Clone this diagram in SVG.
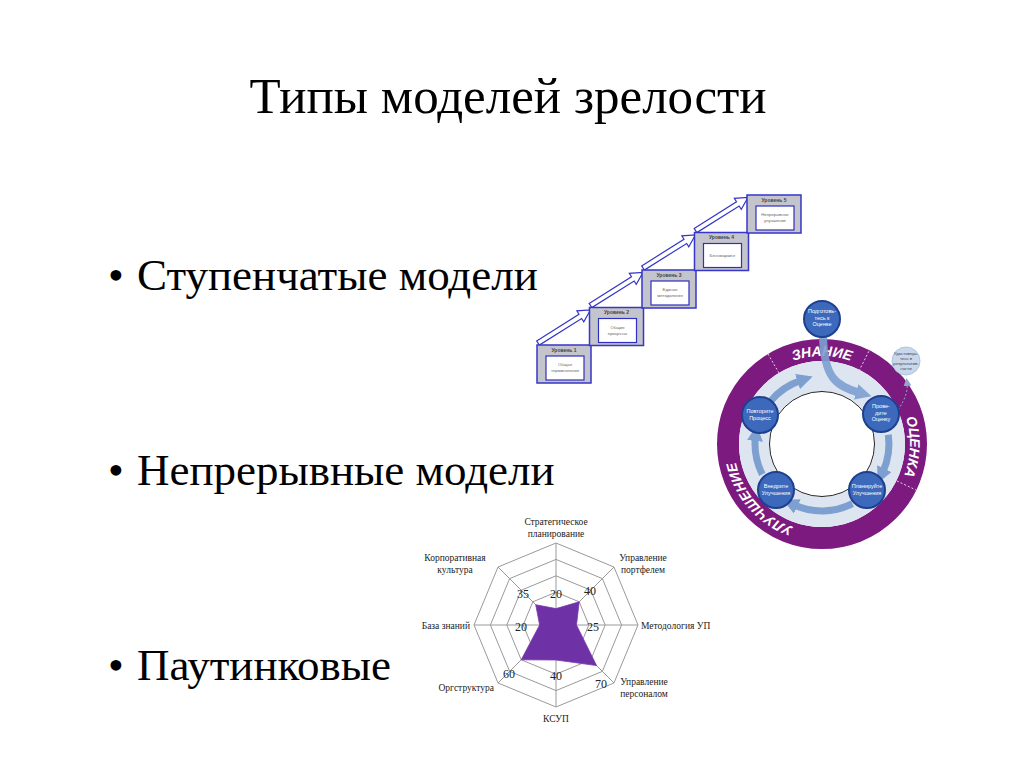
<svg xmlns="http://www.w3.org/2000/svg" width="1024" height="768" viewBox="0 0 1024 768">
<style>
.serif{font-family:"Liberation Serif","Times New Roman",serif;fill:#000}
.title{font-size:51px}
.bullet{font-size:45px}
.ax{font-size:9.5px;fill:#222}
.val{font-size:12px;fill:#222}
.grid{fill:none;stroke:#9a9a9a;stroke-width:1}
.box{fill:#c4c4cc;stroke:#3636c8;stroke-width:1.5}
.inner{fill:#fff;stroke:#3030c0;stroke-width:1.2}
.lvl{font-family:"Liberation Sans",Arial,sans-serif;font-size:5px;font-weight:bold;fill:#444;text-anchor:middle}
.itxt{font-family:"Liberation Sans",Arial,sans-serif;font-size:4.3px;fill:#666;text-anchor:middle}
.sarrow{fill:#fff;stroke:#3535c8;stroke-width:1.2}
.node{fill:#3c69bb;stroke:#1f3f8f;stroke-width:2}
.ntxt{font-family:"Liberation Sans",Arial,sans-serif;font-size:5.5px;fill:#fff;text-anchor:middle}
.vtxt{font-family:"Liberation Sans",Arial,sans-serif;font-size:4.3px;fill:#445;text-anchor:middle}
.ring{font-family:"Liberation Sans",Arial,sans-serif;font-size:14px;font-weight:bold;font-style:italic;fill:#fff;text-anchor:middle}
.flow{fill:none;stroke:#7ea0d0;stroke-width:7}
.div{stroke:#f0c8f0;stroke-width:1;stroke-dasharray:2,2}
</style>
<defs>
<marker id="ah" markerUnits="userSpaceOnUse" markerWidth="16" markerHeight="16" viewBox="0 0 16 16" refX="4" refY="8" orient="auto">
<path d="M0,0 L16,8 L0,16 Z" fill="#7ea0d0"/>
</marker>
<marker id="ahs" markerUnits="userSpaceOnUse" markerWidth="8" markerHeight="8" viewBox="0 0 8 8" refX="4" refY="4" orient="auto">
<path d="M0,0 L8,4 L0,8 Z" fill="#8fa8cc"/>
</marker>
<path id="tp" d="M734,444 A88,88 0 1,1 910,444 A88,88 0 1,1 734,444"/>
</defs>

<text class="serif title" x="508" y="113" text-anchor="middle">Типы моделей зрелости</text>
<g id="bullets" class="serif bullet">
<text x="108" y="290">•</text><text x="137" y="290">Ступенчатые модели</text>
<text x="108" y="485">•</text><text x="137" y="485">Непрерывные модели</text>
<text x="108" y="680">•</text><text x="137" y="680">Паутинковые</text>
</g>

<!-- Staircase -->
<g id="staircase">
<g id="stair-arrows">
<polygon class="sarrow" transform="translate(538,343) rotate(-32.2)" points="0,-2.5 50,-2.5 50,-6.5 62,0 50,6.5 50,2.5 0,2.5"/>
<polygon class="sarrow" transform="translate(590.5,305.5) rotate(-32.2)" points="0,-2.5 50,-2.5 50,-6.5 62,0 50,6.5 50,2.5 0,2.5"/>
<polygon class="sarrow" transform="translate(643,268) rotate(-32.2)" points="0,-2.5 50,-2.5 50,-6.5 62,0 50,6.5 50,2.5 0,2.5"/>
<polygon class="sarrow" transform="translate(695.5,230.5) rotate(-32.2)" points="0,-2.5 50,-2.5 50,-6.5 62,0 50,6.5 50,2.5 0,2.5"/>
</g>
<g id="level1"><rect class="box" x="537" y="345" width="54" height="38"/><text class="lvl" x="564" y="351.5">Уровень 1</text><rect class="inner" x="546" y="356" width="38" height="24"/><text class="itxt" x="565" y="366">Общая</text><text class="itxt" x="565" y="372">терминология</text></g>
<g id="level2"><rect class="box" x="589.5" y="307.5" width="54" height="38"/><text class="lvl" x="616.5" y="314">Уровень 2</text><rect class="inner" x="598.5" y="318.5" width="38" height="24"/><text class="itxt" x="617.5" y="328.5">Общие</text><text class="itxt" x="617.5" y="334.5">процессы</text></g>
<g id="level3"><rect class="box" x="642" y="270" width="54" height="38"/><text class="lvl" x="669" y="276.5">Уровень 3</text><rect class="inner" x="651" y="281" width="38" height="24"/><text class="itxt" x="670" y="291">Единая</text><text class="itxt" x="670" y="297">методология</text></g>
<g id="level4"><rect class="box" x="694.5" y="232.5" width="54" height="38"/><text class="lvl" x="721.5" y="239">Уровень 4</text><rect class="inner" x="703.5" y="243.5" width="38" height="24"/><text class="itxt" x="722.5" y="256.5">Бенчмаркинг</text></g>
<g id="level5"><rect class="box" x="747" y="195" width="54" height="38"/><text class="lvl" x="774" y="201.5">Уровень 5</text><rect class="inner" x="756" y="206" width="38" height="24"/><text class="itxt" x="775" y="216">Непрерывное</text><text class="itxt" x="775" y="222">улучшение</text></g>
</g>

<!-- Cycle -->
<g id="cycle">
<circle cx="822" cy="444" r="94" fill="none" stroke="#7d1a80" stroke-width="22"/>
<circle cx="822" cy="444" r="68" fill="none" stroke="#dde5f1" stroke-width="30"/>
<circle cx="822" cy="444" r="52.5" fill="#fff" stroke="#222" stroke-width="1"/>
<line class="div" x1="779" y1="373" x2="768" y2="354"/>
<line class="div" x1="859" y1="371" x2="869" y2="351"/>
<line class="div" x1="897" y1="481" x2="916" y2="490"/>
<text class="ring"><textPath href="#tp" startOffset="25%">ЗНАНИЕ</textPath></text>
<text class="ring"><textPath href="#tp" startOffset="50.5%">ОЦЕНКА</textPath></text>
<text class="ring"><textPath href="#tp" startOffset="88.5%">УЛУЧШЕНИЕ</textPath></text>
</g>
<g id="connectors">
<path class="flow" d="M770.7,400.9 A67,67 0 0,1 801.3,380.3" marker-end="url(#ah)"/>
<path class="flow" d="M888.3,434.7 A67,67 0 0,1 882.7,472.3" marker-end="url(#ah)"/>
<path class="flow" d="M852.4,503.7 A67,67 0 0,1 793.7,504.7" marker-end="url(#ah)"/>
<path class="flow" d="M762.3,474.4 A67,67 0 0,1 755.4,437" marker-end="url(#ah)"/>
<path fill="none" stroke="#7ea0d0" stroke-width="8" opacity="0.9" d="M823,336 C824,378 836,386 860,393" marker-end="url(#ah)"/>
<path fill="none" stroke="#8fa8cc" stroke-width="1" stroke-dasharray="2,2" d="M898,410 C906,398 908,390 907,382" marker-end="url(#ahs)"/>
</g>
<g id="n-prepare"><circle class="node" cx="822" cy="319" r="18"/><text class="ntxt" x="822" y="313">Подготовь-</text><text class="ntxt" x="822" y="319.5">тесь к</text><text class="ntxt" x="822" y="326">Оценке</text></g>
<g id="n-assess"><circle class="node" cx="881" cy="414" r="18"/><text class="ntxt" x="881" y="408">Прове-</text><text class="ntxt" x="881" y="414.5">дите</text><text class="ntxt" x="881" y="421">Оценку</text></g>
<g id="n-plan"><circle class="node" cx="867" cy="490" r="18"/><text class="ntxt" x="867" y="488">Планируйте</text><text class="ntxt" x="867" y="495">Улучшения</text></g>
<g id="n-implement"><circle class="node" cx="776" cy="490" r="18"/><text class="ntxt" x="776" y="488">Внедрите</text><text class="ntxt" x="776" y="495">Улучшения</text></g>
<g id="n-repeat"><circle class="node" cx="760" cy="415" r="18"/><text class="ntxt" x="760" y="413">Повторите</text><text class="ntxt" x="760" y="420">Процесс</text></g>
<g id="n-verify"><circle cx="906" cy="361" r="14" fill="#c8d7ec" stroke="#b0c4e0" stroke-width="1"/><text class="vtxt" x="906" y="355">Удостоверь-</text><text class="vtxt" x="906" y="360">тесь в</text><text class="vtxt" x="906" y="365">результатив-</text><text class="vtxt" x="906" y="370">ности</text></g>

<!-- Spider chart -->
<g id="spider">
<polygon class="grid" points="556,543 613.98,567.02 638,625 613.98,682.98 556,707 498.02,682.98 474,625 498.02,567.02"/>
<polygon class="grid" points="556,559.4 602.39,578.61 621.6,625 602.39,671.39 556,690.6 509.61,671.39 490.4,625 509.61,578.61"/>
<polygon class="grid" points="556,575.8 590.79,590.21 605.2,625 590.79,659.79 556,674.2 521.21,659.79 506.8,625 521.21,590.21"/>
<polygon class="grid" points="556,592.2 579.19,601.81 588.8,625 579.19,648.19 556,657.8 532.81,648.19 523.2,625 532.81,601.81"/>
<polygon class="grid" points="556,608.6 567.6,613.4 572.4,625 567.6,636.6 556,641.4 544.4,636.6 539.6,625 544.4,613.4"/>
<path class="grid" d="M556,625 L556,543 M556,625 L613.98,567.02 M556,625 L638,625 M556,625 L613.98,682.98 M556,625 L556,707 M556,625 L498.02,682.98 M556,625 L474,625 M556,625 L498.02,567.02"/>
<polygon points="556,608.6 579.19,601.81 576.5,625 596.59,665.59 556,660 521.21,659.79 539.6,625 535.71,604.71" fill="#6f31a6" stroke="#7a3ab0" stroke-width="0.8"/>
<g class="serif val">
<text x="523" y="598" text-anchor="middle">35</text>
<text x="556" y="598" text-anchor="middle">20</text>
<text x="590" y="595" text-anchor="middle">40</text>
<text x="521" y="631" text-anchor="middle">20</text>
<text x="593" y="631" text-anchor="middle">25</text>
<text x="509" y="678" text-anchor="middle">60</text>
<text x="556" y="680" text-anchor="middle">40</text>
<text x="601" y="688" text-anchor="middle">70</text>
</g>
<g class="serif ax">
<text x="556" y="525" text-anchor="middle">Стратегическое</text>
<text x="556" y="537" text-anchor="middle">планирование</text>
<text x="643" y="561" text-anchor="middle">Управление</text>
<text x="643" y="573" text-anchor="middle">портфелем</text>
<text x="641" y="629">Методология УП</text>
<text x="644" y="685" text-anchor="middle">Управление</text>
<text x="644" y="697" text-anchor="middle">персоналом</text>
<text x="556" y="722" text-anchor="middle">КСУП</text>
<text x="494" y="691" text-anchor="end">Оргструктура</text>
<text x="470" y="629" text-anchor="end">База знаний</text>
<text x="455" y="561" text-anchor="middle">Корпоративная</text>
<text x="455" y="573" text-anchor="middle">культура</text>
</g>
</g>
</svg>
